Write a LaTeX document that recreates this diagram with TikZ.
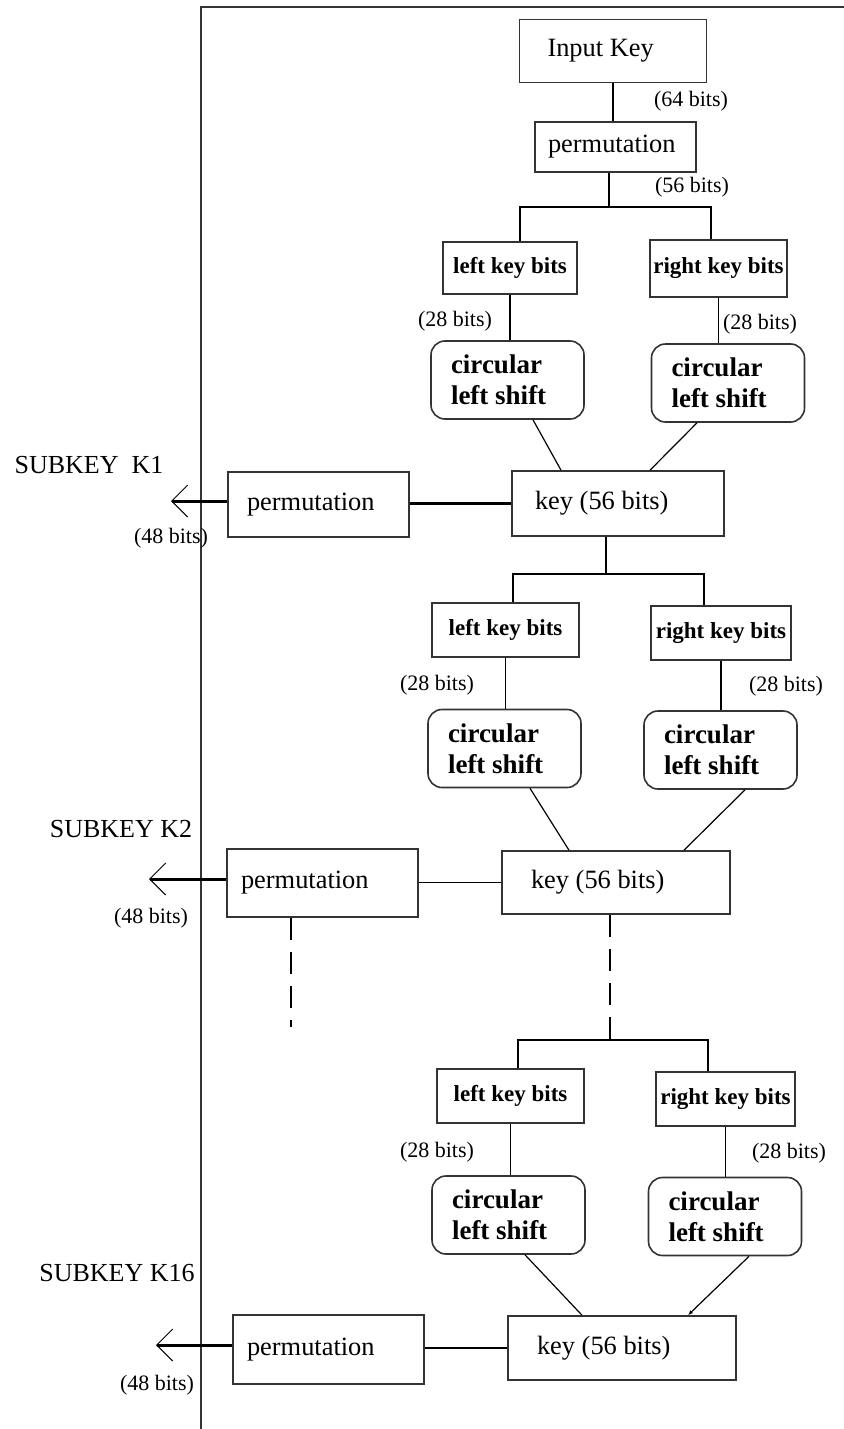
\documentclass[tikz,border=0pt]{standalone}
\usepackage{fontspec}
\setmainfont{Liberation Serif}
\usetikzlibrary{arrows.meta,positioning}

\begin{document}
\begin{tikzpicture}[
        x=0.5pt, y=-0.5pt,
        line width=0.6pt,
        every node/.style={execute at begin node={\spaceskip=0pt\xspaceskip=0pt\relax}},
        box/.style={draw=black!80, line width=0.8pt, align=left, inner ysep=0pt, font=\fontsize{13.2}{15}\selectfont},
        bitbox/.style={draw=black!80, line width=0.8pt, inner sep=0pt, font=\bfseries\fontsize{11.5}{13}\selectfont},
        shiftbox/.style={draw=black!80, line width=0.8pt, rounded corners=7pt, text width=56.5pt, inner xsep=10pt, align=left, minimum height=39pt, font=\bfseries\fontsize{13.5}{15.5}\selectfont},
        bits/.style={inner sep=0pt, font=\fontsize{11}{13}\selectfont},
        subkey/.style={inner sep=0pt, font=\fontsize{13}{15}\selectfont},
        subarrow/.style={line width=1.5pt, draw=black, -{Straight Barb[length=8pt,width=16pt,line width=0.5pt]}},
        cut/.style={line width=0.8pt, dash pattern=on 11pt off 6pt}
    ]
    \useasboundingbox (0,0) rectangle (844,1429);

    % frame
    \draw[line width=0.9pt, draw=black!80] (201,1429) -- (201,7) -- (844,7);

    % Nodes
    \node[box, text width=65.5pt, inner xsep=14pt, minimum height=31.5pt] (inkey) at (613,51) {Input Key};
    \node[box, text width=67.5pt, inner xsep=6.5pt, minimum height=25pt] (perm0) at (615.5,147) {permutation};
    \node[bits] (b64) at (691,101) {(64 bits)};
    \node[bits] (b56) at (692,187) {(56 bits)};

    % round 1
    \node[bitbox, minimum width=67pt, minimum height=26pt] (lk1) at (510,268) {left key bits};
    \node[bitbox, minimum width=68.5pt, minimum height=28.5pt] (rk1) at (718.5,268.5) {right key bits};
    \node[bits] (b28l1) at (455,321) {(28 bits)};
    \node[bits] (b28r1) at (760,324) {(28 bits)};
    \node[shiftbox] (cl1) at (507.5,380) {circular\\left shift};
    \node[shiftbox] (cr1) at (728,383) {circular\\left shift};
    \node[box, text width=83pt, inner xsep=11.5pt, minimum height=32.5pt] (key1) at (618,503.5) {key (56 bits)};
    \node[box, text width=71.5pt, inner xsep=9.5pt, minimum height=32.5pt] (perm1) at (318.5,504.5) {permutation};
    \node[subkey] (sk1) at (89,465) {SUBKEY\ \ K1};
    \node[bits] (b48a) at (171,538) {(48 bits)};
    \coordinate (out1) at (171,501);

    % round 2
    \node[bitbox, minimum width=73.5pt, minimum height=27pt] (lk2) at (505.5,630) {left key bits};
    \node[bitbox, minimum width=70pt, minimum height=27pt] (rk2) at (721,633) {right key bits};
    \node[bits] (b28l2) at (437,685) {(28 bits)};
    \node[bits] (b28r2) at (786,686) {(28 bits)};
    \node[shiftbox] (cl2) at (504.5,748.5) {circular\\left shift};
    \node[shiftbox] (cr2) at (720.5,750) {circular\\left shift};
    \node[box, text width=85pt, inner xsep=14.5pt, minimum height=31.5pt] (key2) at (616,882.5) {key (56 bits)};
    \node[box, text width=81.5pt, inner xsep=7pt, minimum height=34pt] (perm2) at (322.5,883) {permutation};
    \node[subkey] (sk2) at (121,829) {SUBKEY K2};
    \node[bits] (b48b) at (151,918) {(48 bits)};
    \coordinate (out2) at (149,879);

    % round 16
    \node[bitbox, minimum width=73.5pt, minimum height=27pt] (lk3) at (510.5,1096) {left key bits};
    \node[bitbox, minimum width=69.5pt, minimum height=27pt] (rk3) at (725.5,1099) {right key bits};
    \node[bits] (b28l3) at (437,1152) {(28 bits)};
    \node[bits] (b28r3) at (789,1153) {(28 bits)};
    \node[shiftbox] (cl3) at (508.5,1215) {circular\\left shift};
    \node[shiftbox] (cr3) at (725,1216.5) {circular\\left shift};
    \node[box, text width=85pt, inner xsep=14.5pt, minimum height=32pt] (key3) at (622,1348) {key (56 bits)};
    \node[box, text width=81.5pt, inner xsep=7pt, minimum height=34.5pt] (perm3) at (328.5,1349.5) {permutation};
    \node[subkey] (sk3) at (117,1273) {SUBKEY K16};
    \node[bits] (b48c) at (157,1385) {(48 bits)};
    \coordinate (out3) at (156,1345);

    % junctions
    \coordinate (j1) at (609,207);
    \coordinate (j1l) at (520,207);
    \coordinate (j1r) at (711,207);
    \coordinate (j2) at (606,574);
    \coordinate (j2l) at (513,574);
    \coordinate (j2r) at (704,574);
    \coordinate (j3) at (610,1040);
    \coordinate (j3l) at (518,1040);
    \coordinate (j3r) at (708,1040);
    \coordinate (d2) at (291,1027);

    % Edges
    \draw (inkey.south) -- (inkey.south |- perm0.north);
    \draw (j1 |- perm0.south) -- (j1);
    \draw (j1l |- lk1.north) -- (j1l) -- (j1r) -- (j1r |- rk1.north);
    \draw (lk1.south) -- (lk1.south |- cl1.north);
    \draw (rk1.south) -- (rk1.south |- cr1.north);
    \draw ([xshift=12.75pt]cl1.south) -- ([xshift=-28.5pt]key1.north);
    \draw ([xshift=-15.5pt]cr1.south) -- ([xshift=16pt]key1.north);
    \draw[line width=1.5pt] (key1.west) -- (key1.west -| perm1.east);
    \draw[subarrow] ([yshift=1.75pt]perm1.west) -- (out1);

    \draw (j2 |- key1.south) -- (j2);
    \draw (j2l |- lk2.north) -- (j2l) -- (j2r) -- (j2r |- rk2.north);
    \draw (lk2.south) -- (lk2.south |- cl2.north);
    \draw (rk2.south) -- (rk2.south |- cr2.north);
    \draw ([xshift=12.75pt]cl2.south) -- ([xshift=-23.5pt]key2.north);
    \draw ([xshift=12.25pt]cr2.south) -- ([xshift=34pt]key2.north);
    \draw (key2.west) -- (key2.west -| perm2.east);
    \draw[subarrow] ([yshift=2pt]perm2.west) -- (out2);
    \draw[cut] (d2 |- perm2.south) -- (d2);
    \draw[cut] (j3 |- key2.south) -- (j3);

    \draw (j3l |- lk3.north) -- (j3l) -- (j3r) -- (j3r |- rk3.north);
    \draw (lk3.south) -- (lk3.south |- cl3.north);
    \draw (rk3.south) -- (rk3.south |- cr3.north);
    \draw ([xshift=8.25pt]cl3.south) -- ([xshift=-20pt]key3.north);
    \draw[-{Latex[length=2.5pt,width=2pt]}] ([xshift=12pt]cr3.south) -- ([xshift=33pt]key3.north);
    \draw (key3.west) -- (key3.west -| perm3.east);
    \draw[subarrow] ([yshift=2.25pt]perm3.west) -- (out3);

\end{tikzpicture}
\end{document}
